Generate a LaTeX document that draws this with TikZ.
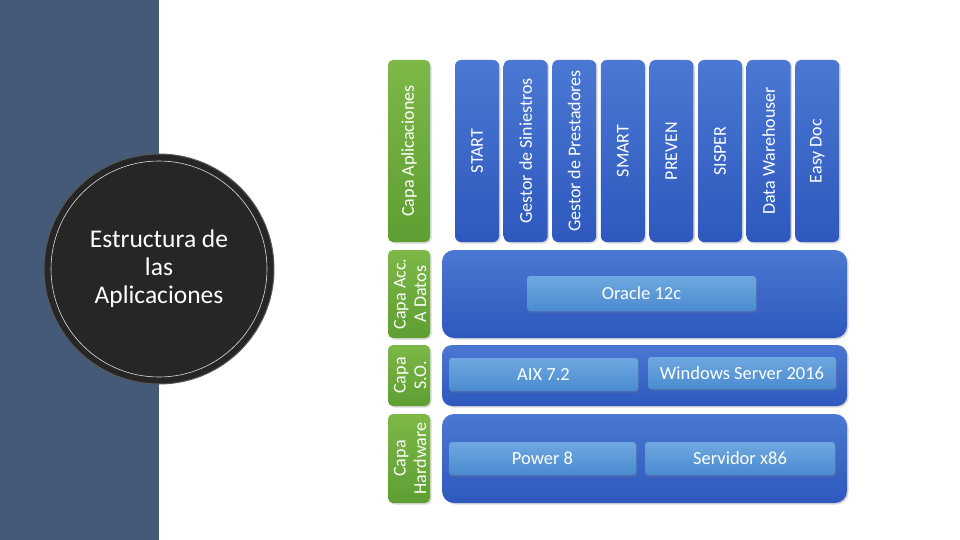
\documentclass[tikz,border=0pt]{standalone}
\usepackage{fontspec}
\setmainfont{Carlito}
\usetikzlibrary{shadows}
\definecolor{panelbg}{HTML}{445A78}
\definecolor{circdark}{HTML}{262626}
\definecolor{bluetop}{HTML}{4A78D2}
\definecolor{bluebot}{HTML}{2E58BE}
\definecolor{greentop}{HTML}{7DB848}
\definecolor{greenbot}{HTML}{5E9E32}
\definecolor{ltop}{HTML}{6FA8E0}
\definecolor{lbot}{HTML}{4A8BD0}
\tikzset{
  bluebox/.style={rounded corners=6pt, top color=bluetop, bottom color=bluebot, draw=none,
    drop shadow={shadow xshift=1.5pt, shadow yshift=-1.5pt, opacity=0.3}},
  greenbox/.style={rounded corners=5pt, top color=greentop, bottom color=greenbot, draw=none,
    drop shadow={shadow xshift=1.5pt, shadow yshift=-1.5pt, opacity=0.3}},
  lightbox/.style={rounded corners=3pt, top color=ltop, bottom color=lbot, draw=none,
    drop shadow={shadow xshift=1pt, shadow yshift=-1.5pt, opacity=0.35}},
  lbl/.style={text=white, font=\fontsize{18.5}{20}\selectfont, align=center},
  vlbl/.style={text=white, font=\fontsize{18}{20.5}\selectfont, align=center, rotate=90},
}
\begin{document}
\begin{tikzpicture}[x=1pt,y=-1pt]
\useasboundingbox (0,0) rectangle (960,540);
\fill[panelbg] (0,0) rectangle (159,540);
% circle
\node[circle, minimum size=230pt, fill=circdark, draw=gray!70!black, line width=1pt] (circ) at (159,269) {};
\draw[white!75!gray, line width=0.6pt] (circ.center) circle (108);
\node[text=white, align=center, font=\fontsize{25.5}{28}\selectfont] (title) at (159,269) {Estructura de\\las\\Aplicaciones};
% green layer labels
\path[greenbox] (388,60) rectangle (430,242);
\node[vlbl] (gApp) at (409,151) {Capa Aplicaciones};
\path[greenbox] (388,250) rectangle (430,338);
\node[vlbl] (gDat) at (410,294) {Capa Acc.\\A Datos};
\path[greenbox] (388,345) rectangle (430,406);
\node[vlbl] (gSO) at (410,375.5) {Capa\\S.O.};
\path[greenbox] (388,414) rectangle (430,503);
\node[vlbl] (gHW) at (410,458.5) {Capa\\Hardware};
% application columns
\foreach \i/\t/\n in {0/START/c0, 1/Gestor de Siniestros/c1, 2/Gestor de Prestadores/c2, 3/SMART/c3, 4/PREVEN/c4, 5/SISPER/c5, 6/Data Warehouser/c6, 7/Easy Doc/c7} {
  \path[bluebox] ({455+\i*48.6},60) rectangle ({499+\i*48.6},242);
  \node[vlbl] (\n) at ({477+\i*48.6},151) {\t};
}
% data layer
\path[bluebox, rounded corners=12pt] (442,250) rectangle (847,338);
\path[lightbox] (527,276) rectangle (756,311);
\node[lbl] (oracle) at (641.5,293.5) {Oracle 12c};
% OS layer
\path[bluebox, rounded corners=10pt] (442,345) rectangle (847,406);
\path[lightbox] (449,358) rectangle (638,391);
\node[lbl] (aix) at (543.5,374.5) {AIX 7.2};
\path[lightbox] (648,357) rectangle (836,389);
\node[lbl] (win) at (742,373) {Windows Server 2016};
% hardware layer
\path[bluebox, rounded corners=12pt] (442,414) rectangle (847,503);
\path[lightbox] (449,442) rectangle (636,475);
\node[lbl] (pow) at (542.5,458.5) {Power 8};
\path[lightbox] (645,442) rectangle (835,475);
\node[lbl] (srv) at (740,458.5) {Servidor x86};
\end{tikzpicture}
\end{document}
